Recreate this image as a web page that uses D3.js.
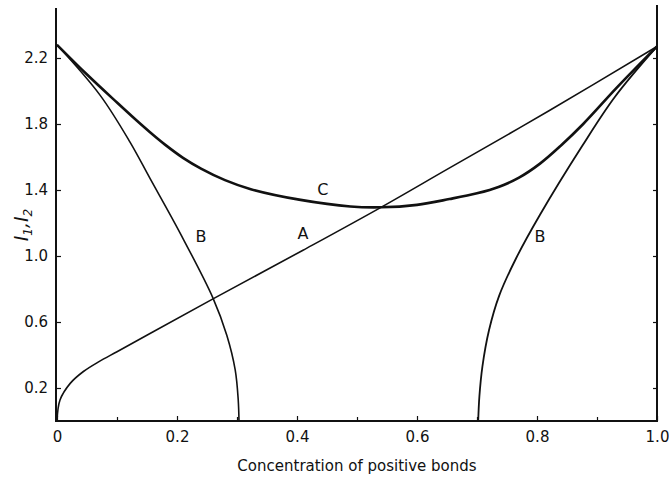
<!DOCTYPE html>
<html>
<head>
<meta charset="utf-8">
<script src="https://cdn.jsdelivr.net/npm/d3@7"></script>
<style>
  body { margin: 0; background: #fff; }
  text { font-family: "DejaVu Sans", sans-serif; fill: #111; }
</style>
</head>
<body>
<svg id="chart" width="669" height="478"></svg>
<script>
// curve A
const xA = [0, 0.005, 0.022, 0.044, 0.07, 0.1, 0.155, 0.26, 0.41, 0.54, 0.65, 0.82, 1.0];
const yA = [0, 0.127, 0.228, 0.30, 0.36, 0.42, 0.53, 0.74, 1.035, 1.295, 1.525, 1.88, 2.27];

// curve B, left branch
const xBl = [0, 0.0717, 0.1217, 0.155, 0.205, 0.26, 0.283, 0.297, 0.302, 0.3033];
const yBl = [2.28, 1.975, 1.69, 1.47, 1.14, 0.745, 0.52, 0.31, 0.13, 0];

// curve B, right branch
const xBr = [0.702, 0.704, 0.709, 0.72, 0.737, 0.765, 0.805, 0.875, 0.93, 1.0];
const yBr = [0, 0.15, 0.33, 0.55, 0.76, 0.985, 1.25, 1.665, 1.965, 2.27];

// curve C
const xC = [0, 0.05, 0.10, 0.13, 0.155, 0.18, 0.21, 0.24, 0.28, 0.323, 0.406, 0.489, 0.54, 0.6, 0.654, 0.70, 0.737, 0.77, 0.805, 0.84, 0.877, 0.933, 1.0];
const yC = [2.28, 2.10, 1.93, 1.83, 1.75, 1.675, 1.595, 1.53, 1.46, 1.405, 1.34, 1.30, 1.295, 1.31, 1.345, 1.38, 1.42, 1.475, 1.56, 1.67, 1.80, 2.02, 2.27];

const xTicks = [0, 0.2, 0.4, 0.6, 0.8, 1.0];
const xTickLabels = ["0", "0.2", "0.4", "0.6", "0.8", "1.0"];
const xMinor = [0.1, 0.3, 0.5, 0.7, 0.9];
const yTicks = [0.2, 0.6, 1.0, 1.4, 1.8, 2.2];

// curve labels: [text, x, y]
const curveLabels = [["C", 0.443, 1.4], ["A", 0.41, 1.13], ["B", 0.24, 1.11], ["B", 0.805, 1.11]];

const svg = d3.select('#chart');
const left = 56, right = 657, bottom = 421;

const x = d3.scaleLinear().domain([0, 1]).range([57, 657]);
const y = d3.scaleLinear().domain([0, 2.5]).range([bottom, bottom - 2.5 * 165]);

// axes
svg.append('g')
  .attr('transform', `translate(0,${bottom})`)
  .call(d3.axisBottom(x).tickValues(xTicks).tickSizeInner(-5).tickSizeOuter(0).tickPadding(10)
    .tickFormat((d, i) => xTickLabels[i]))
  .call(g => g.select('.domain').remove())
  .call(g => g.selectAll('text').attr('font-size', 15).attr('font-family', '"DejaVu Sans", sans-serif'));

svg.append('g')
  .attr('transform', `translate(0,${bottom})`)
  .call(d3.axisBottom(x).tickValues(xMinor).tickSizeInner(-4).tickSizeOuter(0).tickFormat(''))
  .call(g => g.select('.domain').remove());

svg.append('g')
  .attr('transform', `translate(${left},0)`)
  .call(d3.axisLeft(y).tickValues(yTicks).tickSizeInner(-5).tickSizeOuter(0).tickPadding(8)
    .tickFormat(d3.format('.1f')))
  .call(g => g.select('.domain').remove())
  .call(g => g.selectAll('text').attr('font-size', 15).attr('font-family', '"DejaVu Sans", sans-serif'));

svg.append('g')
  .attr('transform', `translate(${right},0)`)
  .call(d3.axisRight(y).tickValues(yTicks).tickSizeInner(-4).tickSizeOuter(0).tickFormat(''))
  .call(g => g.select('.domain').remove());

svg.selectAll('.tick line').attr('stroke', '#111').attr('stroke-width', 1.2);

// frame: left, bottom, right (no top)
svg.append('path')
  .attr('d', `M${left},8 L${left},${bottom} L${right},${bottom} L${right},5`)
  .attr('fill', 'none').attr('stroke', '#111').attr('stroke-width', 2);

// curves
const line = d3.line().x(d => x(d[0])).y(d => y(d[1])).curve(d3.curveCatmullRom.alpha(0.5));
const curves = [
  { xs: xA, ys: yA, w: 1.6 },
  { xs: xBl, ys: yBl, w: 1.6 },
  { xs: xBr, ys: yBr, w: 1.8 },
  { xs: xC, ys: yC, w: 2.6 }
];
curves.forEach(c => {
  svg.append('path')
    .datum(c.xs.map((v, i) => [v, c.ys[i]]))
    .attr('d', line)
    .attr('fill', 'none')
    .attr('stroke', '#111')
    .attr('stroke-width', c.w);
});

svg.selectAll('.clabel')
  .data(curveLabels)
  .enter().append('text')
  .attr('class', 'clabel')
  .attr('x', d => x(d[1]))
  .attr('y', d => y(d[2]))
  .attr('text-anchor', 'middle')
  .attr('dominant-baseline', 'middle')
  .attr('font-size', 16)
  .text(d => d[0]);

// axis titles
svg.append('text')
  .attr('x', 357).attr('y', 471)
  .attr('text-anchor', 'middle')
  .attr('font-size', 15)
  .text('Concentration of positive bonds');

const yl = svg.append('text')
  .attr('transform', 'translate(28,225) rotate(-90)')
  .attr('text-anchor', 'middle')
  .attr('font-family', '"Liberation Serif", serif')
  .attr('font-style', 'italic')
  .attr('font-size', 19);
yl.append('tspan').text('I');
yl.append('tspan').attr('font-size', 12).attr('dy', 4).text('1');
yl.append('tspan').attr('dy', -4).text(',I');
yl.append('tspan').attr('font-size', 12).attr('dy', 4).text('2');
</script>
</body>
</html>
